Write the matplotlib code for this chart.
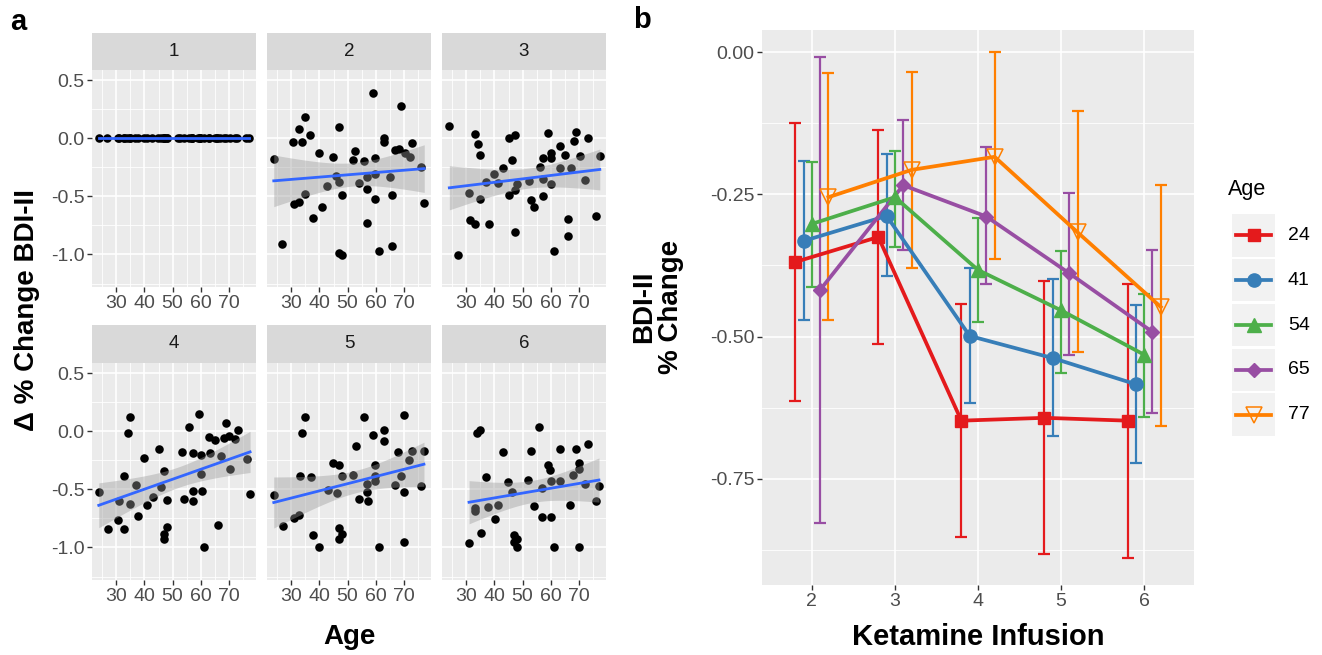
import numpy as np
import matplotlib
matplotlib.use('Agg')
import matplotlib.pyplot as plt
from matplotlib.ticker import MultipleLocator, FixedLocator
from matplotlib.lines import Line2D

plt.rcParams['font.family'] = ['Liberation Sans', 'DejaVu Sans']
plt.rcParams['axes.unicode_minus'] = False

# ---- panel a: % change BDI-II vs age, by infusion ----
age_2 = [23.8, 26.9, 30.8, 31.0, 32.7, 32.7, 33.8, 34.8, 34.8, 36.8, 37.9, 39.9, 40.9, 42.8, 44.9, 45.9,
         47.0, 47.0, 47.9, 47.0, 47.9, 51.9, 52.7, 53.9, 55.9, 56.9, 56.9, 56.9, 58.9, 59.9, 59.9, 59.9,
         61.0, 62.8, 62.8, 65.0, 65.8, 65.8, 66.8, 68.2, 68.8, 70.4, 72.0, 72.7, 76.0, 77.2]
bdi_2 = [-0.181, -0.908, -0.037, -0.569, 0.078, -0.552, -0.032, 0.184, -0.483, 0.026, -0.687, -0.124,
         -0.592, -0.408, -0.161, -0.325, 0.098, -0.986, -1.003, -0.376, -0.486, -0.184, -0.112, -0.385,
         -0.198, -0.333, -0.440, -0.727, 0.391, -0.175, -0.305, -0.526, -0.974, -0.003, -0.037, -0.333,
         -0.486, -0.928, -0.103, -0.095, 0.276, -0.132, -0.161, -0.040, -0.247, -0.555]

age_1 = age_2
bdi_1 = [0.0] * len(age_1)

age_3 = [24.0, 27.1, 31.1, 31.2, 33.0, 33.0, 34.2, 35.0, 35.0, 37.0, 38.1, 40.0, 41.2, 43.1, 45.2, 45.2,
         46.1, 47.2, 47.2, 47.2, 48.1, 52.1, 52.9, 54.1, 56.1, 57.1, 57.1, 57.1, 59.1, 60.1, 60.1, 60.1,
         61.3, 63.1, 63.1, 65.1, 66.1, 66.1, 67.3, 68.2, 69.0, 70.2, 72.3, 73.2, 76.0, 77.4]
bdi_3 = [0.106, -1.003, -0.471, -0.701, 0.034, -0.741, -0.052, -0.147, -0.523, -0.376, -0.741, -0.310,
         -0.385, -0.253, -0.003, -0.486, -0.190, 0.026, -0.807, -0.448, -0.397, -0.371, -0.534, -0.592,
         -0.247, -0.353, -0.167, -0.500, 0.046, -0.132, -0.175, -0.391, -0.974, -0.069, -0.253, -0.141,
         -0.693, -0.845, -0.261, -0.026, 0.057, -0.155, -0.362, -0.003, -0.670, -0.155]

age_4 = [23.8, 27.0, 30.7, 31.0, 32.8, 32.8, 34.0, 34.8, 34.8, 37.0, 37.8, 40.0, 41.0, 43.0, 45.1, 46.0,
         47.0, 47.0, 47.0, 48.0, 48.0, 53.2, 54.1, 56.0, 57.1, 57.1, 57.4, 59.2, 60.1, 60.4, 60.1, 61.3,
         63.0, 63.1, 65.2, 66.1, 67.3, 68.2, 69.1, 70.3, 70.0, 72.1, 73.3, 76.3, 77.5]
bdi_4 = [-0.526, -0.844, -0.766, -0.598, -0.838, -0.382, -0.020, 0.121, -0.630, -0.460, -0.728, -0.231,
         -0.636, -0.564, -0.150, -0.483, -0.344, -0.887, -0.925, -0.824, -0.592, -0.179, -0.584, 0.038,
         -0.188, -0.512, -0.601, 0.145, -0.208, -0.512, -0.367, -0.994, -0.049, -0.188, -0.072, -0.809,
         -0.217, -0.055, 0.072, -0.324, -0.043, -0.064, 0.009, -0.237, -0.543]

age_5 = [23.8, 27.0, 31.0, 32.7, 33.0, 33.9, 34.9, 36.9, 37.9, 39.9, 42.9, 44.9, 46.1, 47.0, 47.0, 47.0,
         48.0, 48.0, 51.8, 53.0, 53.9, 55.7, 56.9, 56.9, 57.1, 58.9, 59.9, 59.9, 59.9, 61.1, 62.9, 62.9,
         67.0, 67.9, 69.0, 70.0, 70.0, 70.0, 71.8, 73.0, 76.0, 77.1]
bdi_5 = [-0.549, -0.815, -0.751, -0.723, -0.382, -0.020, 0.124, -0.390, -0.893, -0.994, -0.503, -0.275,
         -0.535, -0.289, -0.829, -0.931, -0.887, -0.387, -0.376, -0.127, -0.584, 0.124, -0.454, -0.520,
         -0.601, -0.035, -0.295, -0.382, -0.431, -0.994, 0.014, -0.087, -0.460, -0.179, -0.382, 0.139,
         -0.526, -0.954, -0.246, -0.173, -0.474, -0.173]

age_6 = [31.0, 33.0, 33.0, 33.7, 34.9, 35.1, 36.9, 37.9, 40.1, 41.1, 42.9, 44.9, 46.1, 47.0, 47.0, 48.0,
         48.0, 52.0, 53.0, 53.9, 56.0, 56.9, 56.9, 58.9, 59.9, 60.1, 60.1, 61.1, 63.1, 63.1, 67.0, 67.9,
         69.0, 70.0, 70.0, 70.0, 72.0, 73.2, 76.0, 77.1]
bdi_6 = [-0.960, -0.657, -0.685, -0.020, 0.014, -0.873, -0.390, -0.650, -0.757, -0.636, -0.179, -0.439,
         -0.526, -0.896, -0.954, -0.925, -0.994, -0.419, -0.173, -0.642, 0.038, -0.491, -0.734, -0.289,
         -0.338, -0.431, -0.734, -0.994, -0.150, -0.431, -0.633, -0.373, -0.150, -0.272, -0.324, -0.994,
         -0.454, -0.113, -0.598, -0.468]

facets = ['1', '2', '3', '4', '5', '6']
facet_age = [age_1, age_2, age_3, age_4, age_5, age_6]
facet_bdi = [bdi_1, bdi_2, bdi_3, bdi_4, bdi_5, bdi_6]

# ---- panel b: mean % change with error bars, by age group ----
infusions = [2, 3, 4, 5, 6]
age_groups = ['24', '41', '54', '65', '77']
mean_24 = [-0.369, -0.325, -0.648, -0.643, -0.648]
high_24 = [-0.124, -0.136, -0.443, -0.402, -0.408]
low_24 = [-0.613, -0.513, -0.853, -0.882, -0.889]
mean_41 = [-0.332, -0.288, -0.499, -0.538, -0.584]
high_41 = [-0.191, -0.179, -0.380, -0.399, -0.444]
low_41 = [-0.471, -0.393, -0.617, -0.675, -0.722]
mean_54 = [-0.302, -0.255, -0.383, -0.454, -0.532]
high_54 = [-0.194, -0.173, -0.292, -0.350, -0.426]
low_54 = [-0.413, -0.343, -0.475, -0.565, -0.641]
mean_65 = [-0.418, -0.234, -0.289, -0.389, -0.492]
high_65 = [-0.008, -0.119, -0.166, -0.247, -0.348]
low_65 = [-0.828, -0.348, -0.408, -0.532, -0.634]
mean_77 = [-0.255, -0.207, -0.184, -0.317, -0.448]
high_77 = [-0.036, -0.034, 0.001, -0.103, -0.234]
low_77 = [-0.471, -0.379, -0.363, -0.528, -0.658]

means = [mean_24, mean_41, mean_54, mean_65, mean_77]
highs = [high_24, high_41, high_54, high_65, high_77]
lows = [low_24, low_41, low_54, low_65, low_77]
colors = ['#E41A1C', '#377EB8', '#4DAF4A', '#984EA3', '#FF7F00']
markers = ['s', 'o', '^', 'D', 'v']
msizes = [9, 9.5, 9.5, 7, 11]
dodge = [-0.2, -0.1, 0.0, 0.1, 0.2]

PANEL = '#EBEBEB'
STRIP = '#D9D9D9'
TICKC = '#4D4D4D'

W, H = 1322, 655
fig = plt.figure(figsize=(W / 100, H / 100), dpi=100)


def px(x0, y0, x1, y1):
    return [x0 / W, 1 - y1 / H, (x1 - x0) / W, (y1 - y0) / H]


def style(ax):
    ax.set_facecolor(PANEL)
    for s in ax.spines.values():
        s.set_visible(False)
    ax.grid(which='major', color='white', lw=1.2)
    ax.grid(which='minor', color='white', lw=0.6)
    ax.set_axisbelow(True)
    ax.tick_params(which='major', length=3.5, width=1, color='#333333', labelcolor=TICKC,
                   labelsize=14, pad=2)
    ax.tick_params(which='minor', length=0)


def smooth(ax, x, y):
    x = np.asarray(x)
    y = np.asarray(y)
    n = len(x)
    b, a = np.polyfit(x, y, 1)
    grid = np.linspace(x.min(), x.max(), 80)
    fit = a + b * grid
    resid = y - (a + b * x)
    s = np.sqrt(np.sum(resid ** 2) / (n - 2))
    sxx = np.sum((x - x.mean()) ** 2)
    se = s * np.sqrt(1 / n + (grid - x.mean()) ** 2 / sxx)
    ax.fill_between(grid, fit - 2.01 * se, fit + 2.01 * se, color='#999999', alpha=0.4, lw=0, zorder=3)
    ax.plot(grid, fit, color='#3366FF', lw=2, zorder=4)


cols_x = [(92, 256), (267, 431), (442, 606)]
rows_y = [(33, 70, 287), (325, 363, 580)]

for i, name in enumerate(facets):
    r, c = divmod(i, 3)
    x0, x1 = cols_x[c]
    s0, p0, p1 = rows_y[r]
    ax = fig.add_axes(px(x0, p0, x1, p1))
    style(ax)
    ax.scatter(facet_age[i], facet_bdi[i], s=38, color='black', lw=0, zorder=2)
    smooth(ax, facet_age[i], facet_bdi[i])
    ax.set_xlim(21.4, 79.6)
    ax.set_ylim(-1.28, 0.586)
    ax.xaxis.set_major_locator(FixedLocator([30, 40, 50, 60, 70]))
    ax.xaxis.set_minor_locator(MultipleLocator(5))
    ax.yaxis.set_major_locator(FixedLocator([-1.0, -0.5, 0.0, 0.5]))
    ax.yaxis.set_minor_locator(MultipleLocator(0.25))
    ax.set_yticklabels(['-1.0', '-0.5', '0.0', '0.5'])
    if c > 0:
        ax.tick_params(axis='y', left=False, labelleft=False)
    sax = fig.add_axes(px(x0, s0, x1, p0))
    sax.set_facecolor(STRIP)
    sax.set_xticks([])
    sax.set_yticks([])
    for s in sax.spines.values():
        s.set_visible(False)
    sax.text(0.5, 0.5, name, ha='center', va='center', fontsize=13.5, color='#1A1A1A',
             transform=sax.transAxes)

fig.text(27 / W, 1 - 310 / H, 'Δ % Change BDI-II', rotation=90, ha='center', va='center',
         fontsize=20, fontweight='bold')
fig.text(349 / W, 1 - 637 / H, 'Age', ha='center', va='center', fontsize=20, fontweight='bold')
fig.text(18 / W, 1 - 22 / H, 'a', ha='center', va='center', fontsize=21, fontweight='bold')
fig.text(642 / W, 1 - 20 / H, 'b', ha='center', va='center', fontsize=21, fontweight='bold')

# ---- panel b ----
axb = fig.add_axes(px(762, 30, 1194, 585))
style(axb)
for k in range(len(age_groups)):
    xs = np.array(infusions) + dodge[k]
    m = np.array(means[k])
    err = [m - np.array(lows[k]), np.array(highs[k]) - m]
    axb.errorbar(xs, m, yerr=err, fmt='none', ecolor=colors[k], elinewidth=1.6, capsize=4.5,
                 capthick=1.6, zorder=2 + k * 0.1)
    axb.plot(xs, m, color=colors[k], lw=2.7, zorder=3 + k * 0.1)
    if markers[k] == 'v':
        axb.plot(xs, m, ls='none', marker='v', ms=msizes[k], mfc='none', mec=colors[k], mew=1.1,
                 zorder=4 + k * 0.1)
    else:
        axb.plot(xs, m, ls='none', marker=markers[k], ms=msizes[k], color=colors[k], zorder=4 + k * 0.1)
axb.set_xlim(1.4, 6.6)
axb.set_ylim(-0.937, 0.039)
axb.xaxis.set_major_locator(FixedLocator(infusions))
axb.yaxis.set_major_locator(FixedLocator([-0.75, -0.5, -0.25, 0.0]))
axb.yaxis.set_minor_locator(MultipleLocator(0.125))
axb.set_yticklabels(['-0.75', '-0.50', '-0.25', '0.00'])
fig.text(978 / W, 1 - 637 / H, 'Ketamine Infusion', ha='center', va='center', fontsize=21,
         fontweight='bold')
fig.text(658 / W, 1 - 307 / H, 'BDI-II\n% Change', rotation=90, ha='center', va='center',
         fontsize=20, fontweight='bold', linespacing=1.05)

# ---- legend ----
lax = fig.add_axes(px(1232, 213, 1275, 437))
lax.set_xlim(0, 1)
lax.set_ylim(len(age_groups), 0)
lax.axis('off')
for k, g in enumerate(age_groups):
    lax.add_patch(plt.Rectangle((0, k + 0.025), 1, 0.95, color='#F2F2F2', lw=0))
    lax.add_line(Line2D([0.1, 0.9], [k + 0.5, k + 0.5], color=colors[k], lw=2.7))
    if markers[k] == 'v':
        lax.plot([0.5], [k + 0.5], marker='v', ms=msizes[k], mfc='none', mec=colors[k], mew=1.1)
    else:
        lax.plot([0.5], [k + 0.5], marker=markers[k], ms=msizes[k], color=colors[k])
    lax.text(1.3, k + 0.5, g, ha='left', va='center', fontsize=14, color='black')
fig.text(1228 / W, 1 - 190 / H, 'Age', ha='left', va='center', fontsize=15.5)

fig.savefig('out.png', dpi=100)
